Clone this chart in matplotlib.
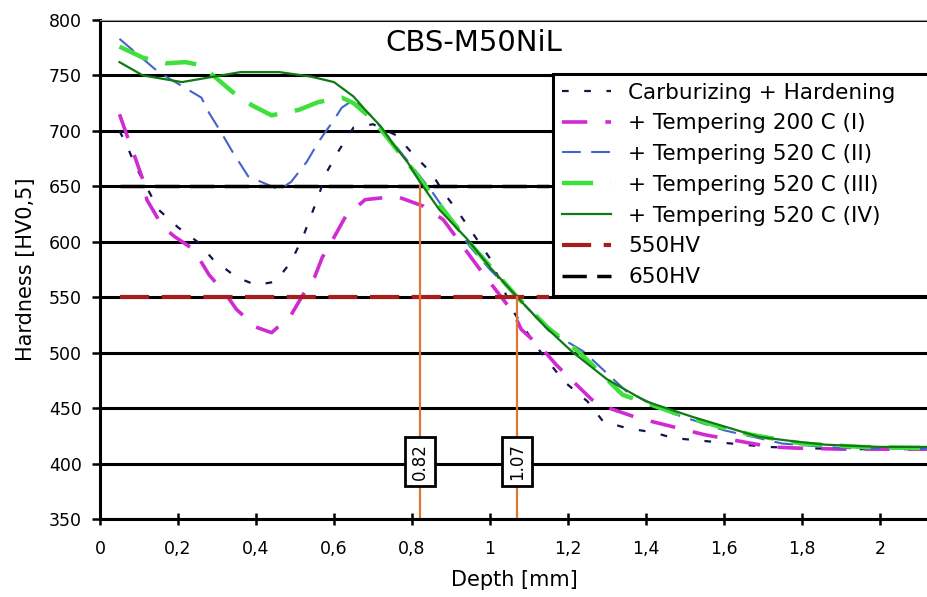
import matplotlib
matplotlib.use("Agg")
import matplotlib.pyplot as plt

plt.rcParams['font.family'] = ['DejaVu Sans']

# Carburizing + Hardening
carb_x = [0.05, 0.07, 0.09, 0.15, 0.20, 0.25, 0.29, 0.35, 0.40, 0.45, 0.49, 0.52, 0.56, 0.58, 0.61, 0.65, 0.70,
          0.76, 0.80, 0.85, 0.88, 0.92, 1.00, 1.06, 1.12, 1.19, 1.25, 1.29, 1.35, 1.42, 1.47, 1.53, 1.59, 1.65,
          1.71, 1.80, 1.90, 2.00, 2.12]
carb_y = [700, 686, 669, 629, 613, 600, 584, 568, 561, 564, 582, 604, 641, 662, 681, 703, 706,
          696, 680, 662, 645, 626, 585, 537, 505, 474, 456, 438, 432, 428, 423, 421, 419, 417,
          415, 414, 413, 413, 413]

# + Tempering 200 C (I)
t1_x = [0.05, 0.07, 0.09, 0.11, 0.12, 0.16, 0.19, 0.24, 0.28, 0.32, 0.35, 0.40, 0.44, 0.49, 0.52, 0.55, 0.57,
        0.60, 0.63, 0.68, 0.76, 0.83, 0.88, 0.97, 1.06, 1.08, 1.13, 1.17, 1.19, 1.26, 1.28, 1.38, 1.55, 1.72,
        1.78, 1.90, 2.00, 2.12]
t1_y = [715, 695, 676, 656, 638, 614, 605, 593, 570, 554, 539, 523, 518, 534, 552, 568, 586,
        604, 623, 638, 641, 632, 620, 577, 536, 521, 505, 489, 482, 458, 453, 441, 426, 415,
        414, 413, 413, 413]

# + Tempering 520 C (II)
t2_x = [0.05, 0.15, 0.26, 0.28, 0.31, 0.34, 0.38, 0.46, 0.49, 0.53, 0.56, 0.60, 0.62, 0.65, 0.70, 0.75, 0.80,
        0.85, 0.90, 0.95, 1.00, 1.07, 1.15, 1.24, 1.35, 1.47, 1.60, 1.75, 1.90, 2.12]
t2_y = [783, 753, 730, 716, 699, 681, 659, 647, 654, 672, 690, 710, 721, 728, 712, 690, 668,
        646, 620, 595, 575, 550, 520, 501, 465, 445, 430, 418, 414, 413]

# + Tempering 520 C (III)
t3_x = [0.05, 0.11, 0.17, 0.22, 0.26, 0.29, 0.34, 0.39, 0.44, 0.51, 0.56, 0.62, 0.65, 0.70, 0.75, 0.80, 0.85,
        0.90, 0.95, 1.00, 1.07, 1.15, 1.23, 1.34, 1.47, 1.59, 1.67, 1.80, 1.95, 2.12]
t3_y = [776, 766, 761, 762, 759, 750, 735, 723, 714, 719, 726, 730, 725, 710, 688, 666, 643,
        620, 598, 578, 550, 522, 500, 462, 446, 433, 426, 418, 415, 414]

# + Tempering 520 C (IV)
t4_x = [0.05, 0.11, 0.21, 0.31, 0.36, 0.46, 0.54, 0.60, 0.65, 0.68, 0.72, 0.75, 0.79, 0.82, 0.87, 0.94, 1.00,
        1.07, 1.14, 1.21, 1.30, 1.40, 1.52, 1.69, 1.78, 1.86, 2.00, 2.12]
t4_y = [762, 750, 744, 750, 753, 753, 749, 744, 731, 719, 704, 689, 671, 654, 629, 603, 577,
        550, 524, 501, 476, 456, 442, 424, 420, 417, 415, 415]

limit_x = [0.05, 1.15]
depth_650 = 0.82
depth_550 = 1.07

xticks = [0, 0.2, 0.4, 0.6, 0.8, 1.0, 1.2, 1.4, 1.6, 1.8, 2.0]
xtick_labels = ['0', '0,2', '0,4', '0,6', '0,8', '1', '1,2', '1,4', '1,6', '1,8', '2']
yticks = [350, 400, 450, 500, 550, 600, 650, 700, 750, 800]

fig = plt.figure(figsize=(9.28, 5.97), dpi=100)
ax = fig.add_axes([100 / 928, 1 - 519 / 597, 828 / 928, 499 / 597])

ax.set_xlim(0, 2.123)
ax.set_ylim(350, 800)
ax.set_yticks(yticks)
ax.set_xticks(xticks)
ax.set_xticklabels(xtick_labels)
ax.yaxis.grid(True, color='black', lw=2.2)
ax.set_axisbelow(True)

ax.plot(carb_x, carb_y, color='#14144a', lw=1.6, dashes=(3, 7), label='Carburizing + Hardening')
ax.plot(t1_x, t1_y, color='#d22ad2', lw=2.6, dashes=(7, 5), label='+ Tempering 200 C (I)')
ax.plot(t2_x, t2_y, color='#4563c8', lw=1.5, dashes=(9, 5), label='+ Tempering 520 C (II)')
ax.plot(t3_x, t3_y, color='#3ee03e', lw=3.2, dashes=(7, 4), label='+ Tempering 520 C (III)')
ax.plot(t4_x, t4_y, color='#127a12', lw=1.6, label='+ Tempering 520 C (IV)')
ax.plot(limit_x, [550, 550], color='#a81c1c', lw=3, dashes=(7, 3), label='550HV')
ax.plot(limit_x, [650, 650], color='black', lw=2.5, dashes=(7, 3), label='650HV')

ax.plot([depth_650, depth_650], [350, 650], color='#dc7830', lw=1.6)
ax.plot([depth_550, depth_550], [350, 550], color='#dc7830', lw=1.6)
box = dict(boxstyle='square,pad=0.35', fc='white', ec='black', lw=2)
ax.text(depth_650, 402, '0.82', rotation=90, ha='center', va='center', fontsize=12, bbox=box)
ax.text(depth_550, 402, '1.07', rotation=90, ha='center', va='center', fontsize=12, bbox=box)

ax.text(0.452, 0.954, 'CBS-M50NiL', transform=ax.transAxes, ha='center', va='center', fontsize=21)

leg = ax.legend(loc='upper left', bbox_to_anchor=(0.547, 0.892, 0.47, 0), mode='expand', borderaxespad=0,
                fontsize=15.5, frameon=True, fancybox=False, handlelength=2.3, handletextpad=0.8,
                labelspacing=0.5, borderpad=0.4, framealpha=1)
leg.get_frame().set_edgecolor('black')
leg.get_frame().set_linewidth(2.2)

ax.spines['right'].set_visible(False)
ax.spines['top'].set_color('#999999')
ax.spines['left'].set_linewidth(2.2)
ax.spines['bottom'].set_linewidth(2.2)
ax.tick_params(axis='y', direction='out', length=6, width=1.8, labelsize=12.5, pad=7)
ax.tick_params(axis='x', direction='inout', length=8, width=1.8, labelsize=12.5, pad=11)

ax.set_xlabel('Depth [mm]', fontsize=15, labelpad=9)
ax.set_ylabel('Hardness [HV0,5]', fontsize=15, labelpad=9)

fig.savefig('out.png', dpi=100)
